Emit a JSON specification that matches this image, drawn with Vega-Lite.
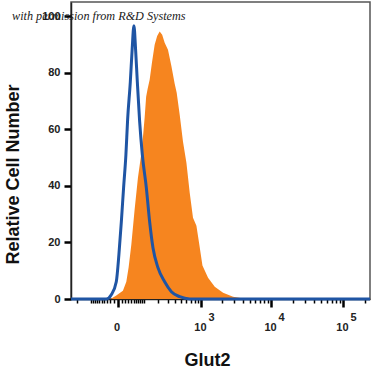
{
  "$schema": "https://vega.github.io/schema/vega-lite/v6.json",
  "autosize": "none",
  "padding": {"left": 71, "top": 2, "right": 1, "bottom": 73},
  "width": 299,
  "height": 297,
  "background": "white",
  "config": {"view": {"stroke": "#555", "strokeWidth": 1.5}},
  "resolve": {"axis": {"x": "independent"}},
  "layer": [
    {
      "data": {"values": [
        {"x": -18.8, "y": 0}, {"x": -3.2, "y": 1.2}, {"x": 13.9, "y": 2.9}, {"x": 24.1, "y": 6.1},
        {"x": 31.6, "y": 11.1}, {"x": 41.2, "y": 19.2}, {"x": 54.2, "y": 31.6}, {"x": 68.6, "y": 42.9},
        {"x": 84.1, "y": 51}, {"x": 94.6, "y": 58.1}, {"x": 102.8, "y": 64.1}, {"x": 111.6, "y": 71.5},
        {"x": 120.8, "y": 74.3}, {"x": 133.7, "y": 77.5}, {"x": 149.6, "y": 83.5}, {"x": 169.9, "y": 89.9},
        {"x": 190.3, "y": 93}, {"x": 212.3, "y": 94.6}, {"x": 236.3, "y": 93.4}, {"x": 262.2, "y": 90.6},
        {"x": 299.6, "y": 88.1}, {"x": 342.7, "y": 82.4}, {"x": 389.2, "y": 76.1}, {"x": 419.9, "y": 72.9},
        {"x": 469.7, "y": 65.1}, {"x": 530.3, "y": 55.6}, {"x": 600, "y": 48.2}, {"x": 675, "y": 37.6},
        {"x": 758, "y": 28.7}, {"x": 854, "y": 25.9}, {"x": 935, "y": 19.9}, {"x": 1051, "y": 11.8},
        {"x": 1272, "y": 7.5}, {"x": 1593, "y": 4.3}, {"x": 2101, "y": 2.2}, {"x": 2920, "y": 0.8},
        {"x": 4523, "y": 0}
      ]},
      "mark": {"type": "area", "color": "#f6851f", "interpolate": "linear"},
      "encoding": {
        "x": {
          "field": "x",
          "type": "quantitative",
          "scale": {"type": "symlog", "constant": 75, "domain": [-257, 237000], "nice": false, "zero": false},
          "axis": {
            "orient": "bottom",
            "values": [-200, -100, -90, -80, -70, -60, -50, -40, -30, -20, -10, 0, 10, 20, 30, 40, 50, 60, 70, 80, 90, 100, 200, 300, 400, 500, 600, 700, 800, 900, 1000, 2000, 3000, 4000, 5000, 6000, 7000, 8000, 9000, 10000, 20000, 30000, 40000, 50000, 60000, 70000, 80000, 90000, 100000, 200000],
            "labelExpr": "datum.value == 0 ? '0' : (datum.value == 1000 || datum.value == 10000 || datum.value == 100000) ? '10' : ''",
            "tickSize": {"condition": {"test": "datum.value == 0 || datum.value == 1000 || datum.value == 10000 || datum.value == 100000", "value": 8}, "value": 4},
            "tickWidth": {"condition": {"test": "datum.value == 0 || datum.value == 1000 || datum.value == 10000 || datum.value == 100000", "value": 2.5}, "value": 1.5},
            "tickColor": "black",
            "domainColor": "#222",
            "domainWidth": 1.5,
            "grid": false,
            "labelFlush": false,
            "labelOverlap": false,
            "labelFont": "Liberation Sans",
            "labelFontWeight": "bold",
            "labelFontSize": 11,
            "labelColor": "#222",
            "labelPadding": 14,
            "labelOffset": -1,
            "title": "Glut2",
            "titleFont": "Liberation Sans",
            "titleFontWeight": "bold",
            "titleFontSize": 18,
            "titleColor": "#111",
            "titleX": 136,
            "titleY": 61,
            "titleAlign": "center",
            "titleBaseline": "middle"
          }
        },
        "y": {
          "field": "y",
          "type": "quantitative",
          "scale": {"domain": [0, 105], "nice": false, "zero": true},
          "axis": {
            "values": [0, 5, 10, 15, 20, 25, 30, 35, 40, 45, 50, 55, 60, 65, 70, 75, 80, 85, 90, 95, 100, 105],
            "labelExpr": "datum.value % 20 == 0 ? datum.label : ''",
            "tickSize": {"condition": {"test": "datum.value % 20 == 0", "value": 7}, "value": 4},
            "tickWidth": {"condition": {"test": "datum.value % 20 == 0", "value": 2.5}, "value": 1.5},
            "tickColor": "black",
            "domainColor": "#222",
            "domainWidth": 1.5,
            "grid": false,
            "labelFlush": false,
            "labelOverlap": false,
            "labelFont": "Liberation Sans",
            "labelFontWeight": "bold",
            "labelFontSize": 11,
            "labelColor": "#222",
            "labelPadding": 4,
            "title": "Relative Cell Number",
            "titleFont": "Liberation Sans",
            "titleFontWeight": "bold",
            "titleFontSize": 18,
            "titleColor": "#111",
            "titleAngle": -90,
            "titleX": -58,
            "titleY": 172,
            "titleAlign": "center",
            "titleBaseline": "middle"
          }
        }
      }
    },
    {
      "data": {"values": [
        {"x": -257, "y": 0}, {"x": -32.6, "y": 0}, {"x": -16.7, "y": 1.5}, {"x": -3.2, "y": 6.1},
        {"x": 3.2, "y": 15.7}, {"x": 9.5, "y": 27.3}, {"x": 15.8, "y": 39.3}, {"x": 22.8, "y": 51},
        {"x": 28.3, "y": 63.4}, {"x": 37.6, "y": 76.8}, {"x": 44.3, "y": 88.1}, {"x": 51.3, "y": 96.6},
        {"x": 58.3, "y": 88.1}, {"x": 65.8, "y": 76.8}, {"x": 76.6, "y": 62.8}, {"x": 90.2, "y": 51},
        {"x": 112.8, "y": 39.3}, {"x": 133.7, "y": 27.3}, {"x": 157, "y": 18.1}, {"x": 197, "y": 11.1},
        {"x": 262, "y": 6.1}, {"x": 343, "y": 2.6}, {"x": 470, "y": 0.8}, {"x": 675, "y": 0},
        {"x": 237000, "y": 0}
      ]},
      "mark": {"type": "line", "color": "#1f55a4", "strokeWidth": 3, "strokeJoin": "round", "interpolate": "monotone"},
      "encoding": {
        "x": {
          "field": "x",
          "type": "quantitative",
          "axis": {
            "orient": "bottom",
            "values": [1000, 10000, 100000],
            "labelExpr": "datum.value == 1000 ? '3' : datum.value == 10000 ? '4' : '5'",
            "ticks": false,
            "domain": false,
            "grid": false,
            "labelFlush": false,
            "labelOverlap": false,
            "labelOffset": 10,
            "labelFont": "Liberation Sans",
            "labelFontWeight": "bold",
            "labelFontSize": 11,
            "labelColor": "#222",
            "labelPadding": 12,
            "title": null
          }
        },
        "y": {"field": "y", "type": "quantitative"}
      }
    },
    {
      "data": {"values": [
        {"x": -2109, "y": 98.6, "label": "with permission from R&D Systems"}
      ]},
      "mark": {"type": "text", "align": "left", "baseline": "alphabetic", "font": "Liberation Serif", "fontStyle": "italic", "fontSize": 12.2, "color": "#1a1a1a", "clip": false},
      "encoding": {
        "x": {"field": "x", "type": "quantitative", "axis": null},
        "y": {"field": "y", "type": "quantitative"},
        "text": {"field": "label"}
      }
    }
  ]
}
